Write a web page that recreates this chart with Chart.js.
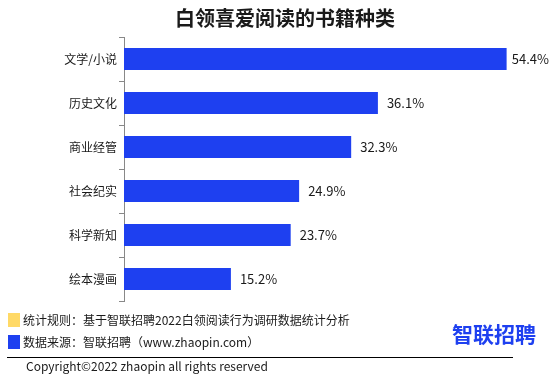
<!DOCTYPE html>
<html>
<head>
<meta charset="utf-8">
<script src="https://cdn.jsdelivr.net/npm/chart.js@4"></script>
<style>
  body { margin: 0; background: #fff; }
  #wrap { position: relative; width: 554px; height: 384px; overflow: hidden; font-family: "Noto Sans CJK SC", "Noto Sans", sans-serif; color: #1a1a1a; }
  #chart { position: absolute; left: 0; top: 0; }
  .title { position: absolute; left: 0; top: 3px; width: 570px; text-align: center; font-size: 20px; font-weight: bold; }
  .note { position: absolute; left: 23px; font-size: 12px; line-height: 14px; white-space: nowrap; }
  .sq { position: absolute; left: 8px; width: 12px; height: 14px; }
  .rule { position: absolute; left: 7px; top: 357px; width: 506px; height: 1px; background: #000; }
  .copy { position: absolute; left: 26px; top: 358px; font-size: 12px; line-height: 16px; white-space: nowrap; }
  .logo { position: absolute; left: 452px; top: 318px; font-size: 21px; font-weight: bold; color: #1e40f0; }
</style>
</head>
<body>
<div id="wrap">
  <canvas id="chart" width="554" height="384"></canvas>
  <div class="title">白领喜爱阅读的书籍种类</div>
  <div class="sq" style="top:313px;background:#ffd966;"></div>
  <div class="note" style="top:313px;">统计规则：基于智联招聘2022白领阅读行为调研数据统计分析</div>
  <div class="sq" style="top:335px;background:#1e40f0;"></div>
  <div class="note" style="top:335px;">数据来源：智联招聘（www.zhaopin.com）</div>
  <div class="rule"></div>
  <div class="copy">Copyright©2022 zhaopin all rights reserved</div>
  <div class="logo">智联招聘</div>
</div>
<script>
const categories = ["文学/小说", "历史文化", "商业经管", "社会纪实", "科学新知", "绘本漫画"];
const shares = [54.4, 36.1, 32.3, 24.9, 23.7, 15.2];

// draws the "54.4%" labels next to each bar
const valueLabels = {
  id: "valueLabels",
  afterDatasetsDraw(chart) {
    const ctx = chart.ctx;
    const meta = chart.getDatasetMeta(0);
    ctx.save();
    ctx.font = "13px 'Noto Sans CJK SC', 'Noto Sans', sans-serif";
    ctx.fillStyle = "#1a1a1a";
    ctx.textBaseline = "middle";
    meta.data.forEach(function(bar, i) {
      const txt = shares[i].toFixed(1) + "%";
      const w = ctx.measureText(txt).width;
      let x = bar.x + 9;
      if (x + w > 549) x = Math.max(bar.x + 3, 549 - w);
      ctx.fillText(txt, x, bar.y);
    });
    ctx.restore();
  }
};

new Chart(document.getElementById("chart"), {
  type: "bar",
  data: {
    labels: categories,
    datasets: [{
      data: shares,
      backgroundColor: "#1e40f0",
      barPercentage: 0.5,
      categoryPercentage: 1.0
    }]
  },
  options: {
    indexAxis: "y",
    responsive: false,
    animation: false,
    layout: { padding: { top: 37, bottom: 83, left: 0, right: 8 } },
    plugins: { legend: { display: false }, tooltip: { enabled: false } },
    scales: {
      x: { display: false, min: 0, max: 60 },
      y: {
        afterFit(scale) { scale.width = 124; },
        border: { display: true, color: "#888", width: 1 },
        grid: { display: true, drawOnChartArea: false, drawTicks: true, tickLength: 5, offset: true, color: "#888" },
        ticks: { color: "#1a1a1a", padding: 2, font: { size: 12, family: "'Noto Sans CJK SC', sans-serif" } }
      }
    }
  },
  plugins: [valueLabels]
});
</script>
</body>
</html>
